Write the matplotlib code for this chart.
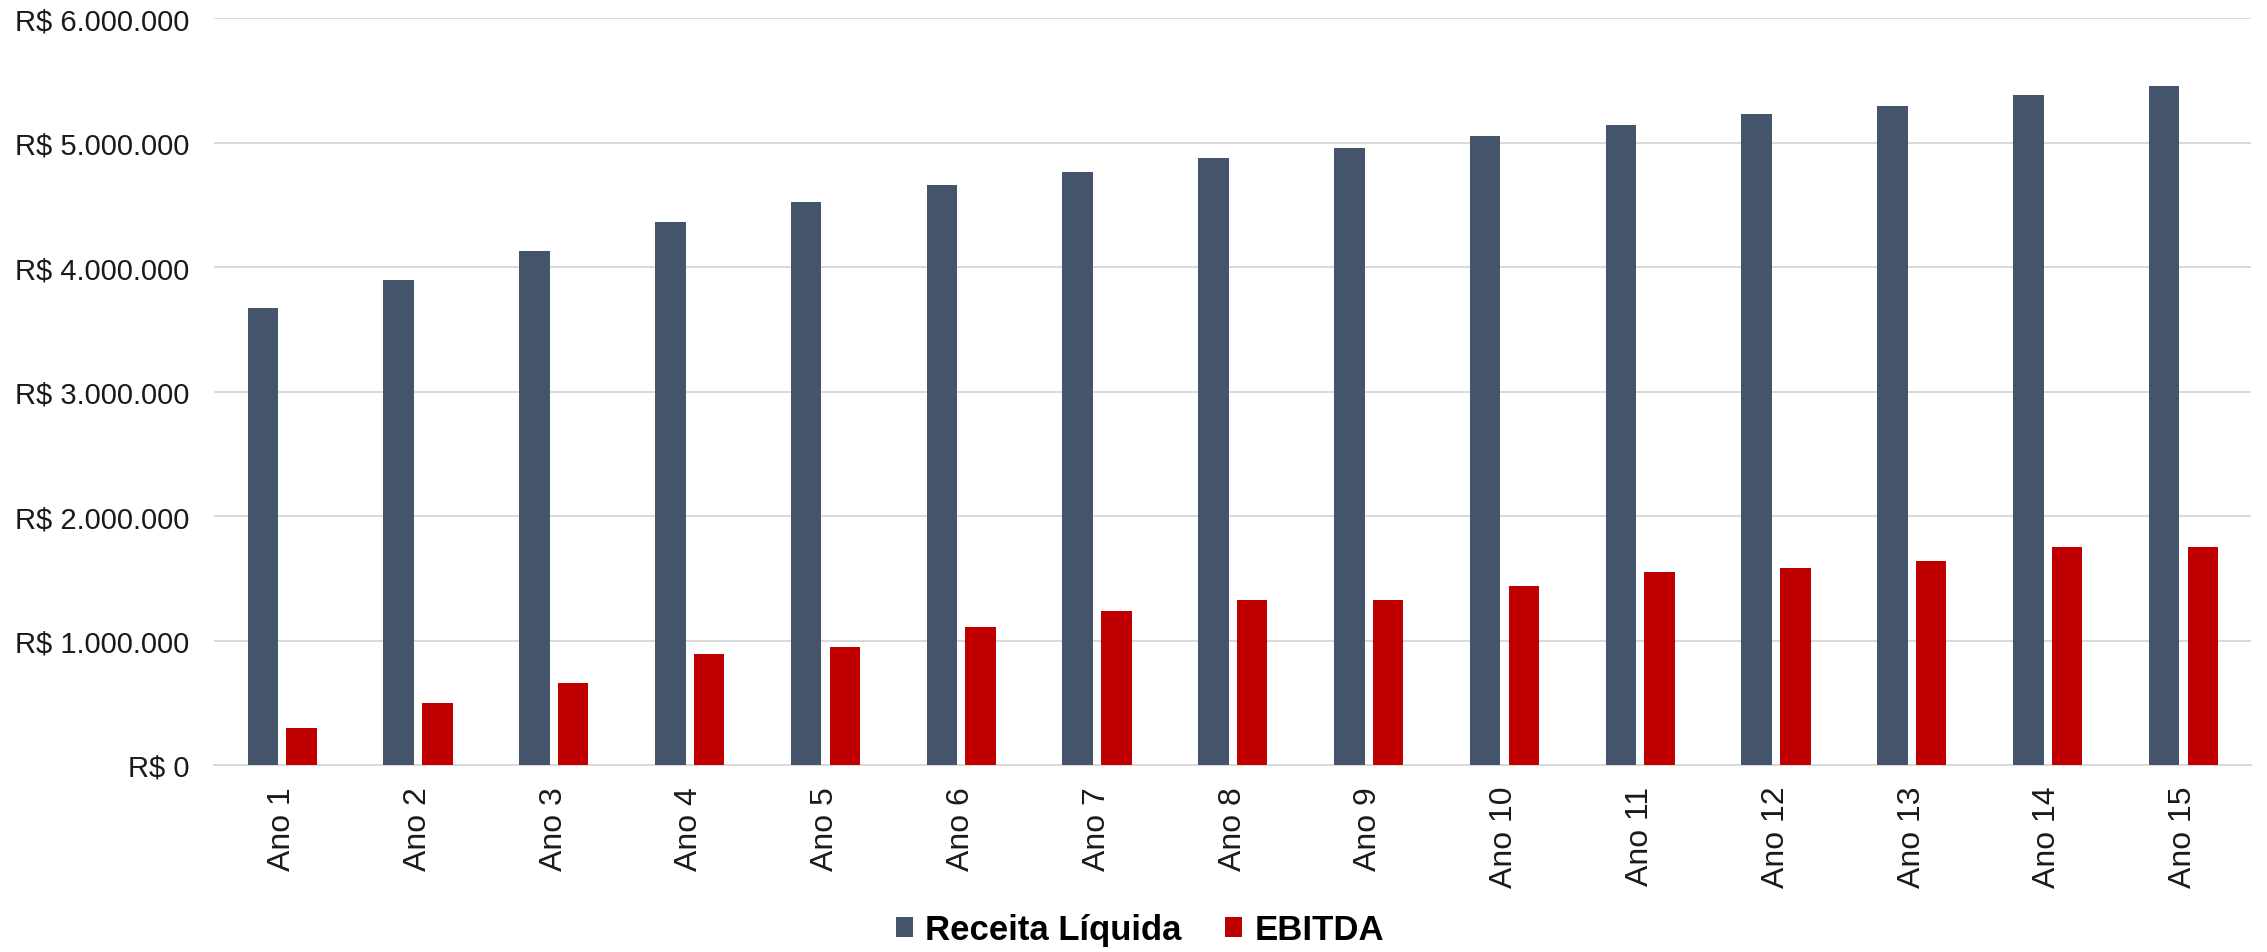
import matplotlib
matplotlib.use("Agg")
import matplotlib.pyplot as plt
import numpy as np
from matplotlib.ticker import FuncFormatter, MultipleLocator

categories = [f"Ano {i}" for i in range(1, 16)]
receita = [3672000, 3898000, 4131000, 4361000, 4525000, 4662000, 4767000, 4875000,
           4962000, 5057000, 5143000, 5230000, 5299000, 5385000, 5459000]
ebitda = [299000, 500000, 656000, 894000, 951000, 1111000, 1237000, 1324000,
          1324000, 1439000, 1549000, 1582000, 1639000, 1750000, 1750000]
series_names = ["Receita Líquida", "EBITDA"]
colors = ["#44546A", "#C00000"]

plt.rcParams['font.family'] = ['Liberation Sans', 'DejaVu Sans']

fig = plt.figure(figsize=(22.67, 9.53), dpi=100)
ax = fig.add_axes([214/2267, 1-766/953, (2251-214)/2267, (766-19.4)/953])

x = np.arange(len(categories))
w = 0.225
ax.bar(x - 0.14, receita, width=w, color=colors[0], label=series_names[0], zorder=3)
ax.bar(x + 0.145, ebitda, width=w, color=colors[1], label=series_names[1], zorder=3)

ax.set_xlim(-0.5, len(categories) - 0.5)
ax.set_ylim(0, 6000000)
ax.yaxis.set_major_locator(MultipleLocator(1000000))

def fmt(v, pos):
    s = f"{int(round(v)):,}".replace(",", ".")
    return f"R$ {s}"
ax.yaxis.set_major_formatter(FuncFormatter(fmt))

ax.grid(axis='y', color='#d9d9d9', linewidth=1.4, zorder=0)
ax.set_axisbelow(True)
for s in ['top', 'right', 'left']:
    ax.spines[s].set_visible(False)
ax.spines['bottom'].set_color('#d9d9d9')
ax.spines['bottom'].set_linewidth(1.4)

ax.set_xticks(x)
ax.set_xticklabels(categories, rotation=90, fontsize=23, color='#1a1a1a')
ax.tick_params(axis='x', length=0, pad=15)
ax.tick_params(axis='y', length=0, pad=18, labelsize=21, labelcolor='#1a1a1a')

leg = fig.legend(loc='center', bbox_to_anchor=(1140/2267, 1-931/953), ncol=2, frameon=False,
                 prop={'family': ['Liberation Sans', 'DejaVu Sans'], 'weight': 'bold', 'size': 25},
                 handlelength=0.49, handleheight=0.49, handletextpad=0.35, columnspacing=1.27,
                 borderpad=0.1)

fig.savefig("out.png", dpi=100)
